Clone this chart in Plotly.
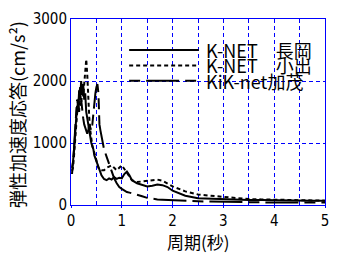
import plotly.graph_objects as go

# Periods (s)
period = [0.02, 0.04, 0.06, 0.08, 0.10, 0.12, 0.14, 0.16, 0.18, 0.20,
          0.22, 0.24, 0.26, 0.28, 0.30, 0.32, 0.34, 0.36, 0.38, 0.40,
          0.42, 0.44, 0.46, 0.48, 0.50, 0.52, 0.54, 0.56, 0.58, 0.60,
          0.65, 0.70, 0.75, 0.80, 0.85, 0.90, 0.95, 1.00, 1.05, 1.10,
          1.15, 1.20, 1.30, 1.40, 1.50, 1.60, 1.70, 1.80, 1.90, 2.00,
          2.25, 2.50, 2.75, 3.00, 3.25, 3.50, 3.75, 4.00, 4.25, 4.50,
          4.75, 5.00]

# K-NET 長岡 (solid)
nagaoka = [600, 700, 900, 1100, 1300, 1600, 1500, 1850, 1700, 2000,
           1800, 1950, 1700, 1800, 1500, 1400, 1300, 1150, 1050, 1000,
           950, 900, 800, 750, 700, 650, 600, 560, 520, 480,
           420, 400, 430, 410, 450, 420, 440, 430, 500, 540,
           480, 400, 350, 320, 300, 310, 330, 320, 290, 230,
           150, 110, 100, 90, 85, 80, 80, 75, 75, 70,
           70, 70]

# K-NET 小出 (dotted)
koide = [550, 600, 800, 1000, 1200, 1400, 1700, 1500, 1800, 1600,
         1900, 1750, 2000, 2200, 2350, 2100, 1700, 1400, 1200, 1050,
         950, 900, 850, 800, 720, 650, 600, 590, 580, 560,
         560, 600, 620, 640, 600, 560, 600, 640, 580, 520,
         450, 400, 370, 380, 390, 400, 410, 390, 350, 300,
         220, 170, 150, 130, 110, 95, 90, 85, 80, 80,
         75, 70]

# KiK-net 加茂 (long dash)
kamo = [500, 650, 900, 1200, 1500, 1700, 1600, 1800, 1900, 1700,
        1500, 1400, 1300, 1250, 1200, 1150, 1200, 1300, 1250, 1200,
        1300, 1500, 1650, 1800, 1900, 1950, 1800, 1300, 1200, 1100,
        900, 780, 650, 520, 430, 350, 290, 260, 230, 210,
        200, 190, 170, 140, 115, 100, 90, 85, 80, 75,
        70, 60, 55, 50, 50, 45, 45, 40, 40, 40,
        40, 40]

names = ["K-NET\u3000長岡", "K-NET\u3000小出", "KiK-net加茂"]
dashes = ["solid", "4px,3px", "11px,6px,33px,6px"]
series = [nagaoka, koide, kamo]

BLUE = "#0000FF"
CJK = "Noto Sans CJK JP"
NUM = "DejaVu Sans Condensed, DejaVu Sans, sans-serif"

fig = go.Figure()
for name, vals, dash in zip(names, series, dashes):
    fig.add_trace(go.Scatter(x=period, y=vals, mode="lines", name=name,
                             line=dict(color="black", width=2, dash=dash),
                             showlegend=False))

# Manual legend (sample lines + text), paper coordinates
L, R, T, B = 70.5, 326.0, 10.5, 205.0
W, H = R - L, B - T
def px2x(px):
    return (px - L) / W
def py2y(py):
    return (B - py) / H

rows = [43, 59, 75]
for name, dash, py in zip(names, dashes, rows):
    fig.add_shape(type="line", xref="paper", yref="paper",
                  x0=px2x(129), x1=px2x(199), y0=py2y(py), y1=py2y(py),
                  line=dict(color="black", width=2, dash=dash))
    fig.add_annotation(xref="paper", yref="paper", x=px2x(204), y=py2y(py),
                       text=name, showarrow=False, xanchor="left", yanchor="middle",
                       font=dict(family=CJK, size=18, color="black"))

# Axis titles
fig.add_annotation(xref="paper", yref="paper", x=px2x(16), y=py2y(110),
                   text="弾性加速度応答(cm/s²)", textangle=-90, showarrow=False,
                   xanchor="center", yanchor="middle",
                   font=dict(family=CJK, size=18, color="black"))
fig.add_annotation(xref="paper", yref="paper", x=0.5, y=py2y(243),
                   text="周期(秒)", showarrow=False,
                   xanchor="center", yanchor="middle",
                   font=dict(family=CJK, size=17, color="black"))

fig.update_layout(
    width=340, height=259,
    margin=dict(l=L, r=340 - R, t=T, b=259 - B),
    paper_bgcolor="white", plot_bgcolor="white",
    xaxis=dict(range=[0, 5], tickvals=[0, 1, 2, 3, 4, 5],
               showline=True, linecolor=BLUE, linewidth=1, mirror=True,
               showgrid=True, gridcolor=BLUE, gridwidth=1, griddash="4px,3px",
               minor=dict(dtick=0.5, showgrid=True, gridcolor=BLUE, gridwidth=1,
                          griddash="4px,3px"),
               ticks="outside", ticklen=2, tickcolor=BLUE,
               zeroline=False,
               tickfont=dict(family=NUM, size=15, color="black")),
    yaxis=dict(range=[0, 3000], tickvals=[0, 1000, 2000, 3000],
               showline=True, linecolor=BLUE, linewidth=1, mirror=True,
               showgrid=True, gridcolor=BLUE, gridwidth=1, griddash="4px,3px",
               ticks="", zeroline=False,
               tickfont=dict(family=NUM, size=15, color="black")),
)

fig.write_html("out.html")
